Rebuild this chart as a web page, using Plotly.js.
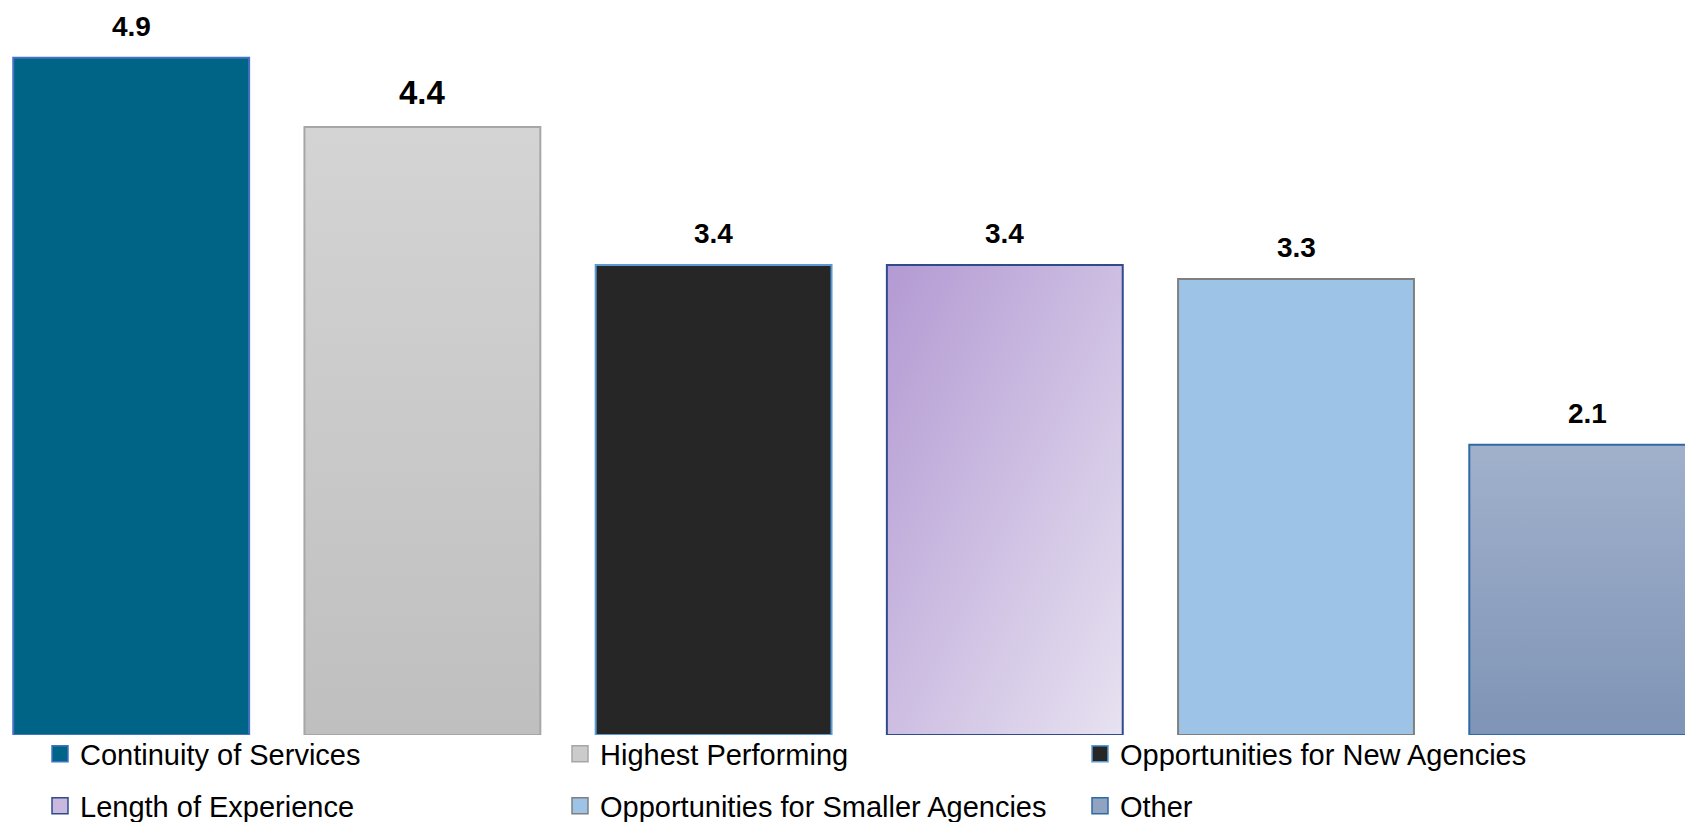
<!DOCTYPE html>
<html>
<head>
<meta charset="utf-8">
<script src="https://cdn.plot.ly/plotly-3.0.1.min.js"></script>
<style>
  html, body { margin: 0; padding: 0; background: #ffffff; }
  #chart { width: 1685px; height: 822px; }
</style>
</head>
<body>
<div id="chart"></div>
<script>
// ---- data ----
const categories = [
  "Continuity of Services",
  "Highest Performing",
  "Opportunities for New Agencies",
  "Length of Experience",
  "Opportunities for Smaller Agencies",
  "Other"
];
const values = [4.9, 4.4, 3.4, 3.4, 3.3, 2.1];

// ---- styles ----
const fillColors   = ["#006486", null, "#262626", null, "#9dc3e6", null];
const gradients    = [null,
  {x2: 0, y2: 1, from: "#d4d4d4", to: "#bfbfbf"},
  null,
  {x2: 1, y2: 1, from: "#b39ad3", to: "#e7e2f1"},
  null,
  {x2: 0, y2: 1, from: "#a1b1cc", to: "#7f94b6"}];
const swatchColors = ["#006486", "#cbcbcb", "#262626", "#c9b9df", "#9dc3e6", "#90a3c1"];
const lineColors   = ["#4472c4", "#a6a6a6", "#5b9bd5", "#2f4b8c", "#7f7f7f", "#2e6aa6"];
const labelSizes   = [28, 33, 28, 28, 28, 28];
const FONT = "Liberation Sans, Arial, sans-serif";
const BAR_W = 0.81;

function gradientURI(g) {
  const svg = "<svg xmlns='http://www.w3.org/2000/svg' width='100' height='100' viewBox='0 0 100 100' preserveAspectRatio='none'>" +
    "<defs><linearGradient id='g' x1='0' y1='0' x2='" + g.x2 + "' y2='" + g.y2 + "'>" +
    "<stop offset='0' stop-color='" + g.from + "'/><stop offset='1' stop-color='" + g.to + "'/></linearGradient></defs>" +
    "<rect x='0' y='0' width='100' height='100' fill='url(#g)'/></svg>";
  return "data:image/svg+xml;charset=utf-8," + encodeURIComponent(svg);
}

const traces = [];
const images = [];
const annotations = [];

categories.forEach((name, i) => {
  traces.push({
    type: "bar",
    x: [i],
    y: [values[i]],
    width: BAR_W,
    name: name,
    showlegend: false,
    hoverinfo: "skip",
    marker: {
      color: gradients[i] ? "rgba(0,0,0,0)" : fillColors[i],
      line: { color: lineColors[i], width: 2 }
    }
  });
  if (gradients[i]) {
    images.push({
      source: gradientURI(gradients[i]),
      xref: "x", yref: "y",
      x: i - BAR_W / 2, y: values[i],
      sizex: BAR_W, sizey: values[i],
      xanchor: "left", yanchor: "top",
      sizing: "stretch",
      layer: "below"
    });
  }
  annotations.push({
    x: i, y: values[i],
    xref: "x", yref: "y",
    text: "<b>" + values[i].toFixed(1) + "</b>",
    showarrow: false,
    yanchor: "bottom",
    yshift: 14,
    font: { family: FONT, size: labelSizes[i], color: "#000000" }
  });
});

// legend entries (two rows of three)
categories.forEach((name, i) => {
  traces.push({
    type: "scatter",
    mode: "markers",
    x: [null], y: [null],
    name: name,
    legend: i < 3 ? "legend" : "legend2",
    hoverinfo: "skip",
    marker: {
      symbol: "square",
      size: 16,
      color: swatchColors[i],
      line: { color: lineColors[i], width: 1.5 }
    }
  });
});

const W = 1685, H = 822;
const legendBase = {
  orientation: "h",
  xref: "container", yref: "container",
  x: 40 / W, xanchor: "left",
  yanchor: "middle",
  entrywidth: 475,
  bgcolor: "rgba(0,0,0,0)",
  borderwidth: 0,
  font: { family: FONT, size: 29, color: "#000000" }
};

const layout = {
  width: W, height: H,
  margin: { l: 0, r: 0, t: 0, b: 87, pad: 0, autoexpand: false },
  paper_bgcolor: "#ffffff",
  plot_bgcolor: "rgba(0,0,0,0)",
  barmode: "overlay",
  showlegend: true,
  xaxis: {
    type: "linear",
    range: [-0.4505, 5.3358],
    showgrid: false, zeroline: false, showline: false,
    showticklabels: false, ticks: "", fixedrange: true, automargin: false
  },
  yaxis: {
    range: [0, 5.318],
    showgrid: false, zeroline: false, showline: false,
    showticklabels: false, ticks: "", fixedrange: true, automargin: false
  },
  legend: Object.assign({}, legendBase, { y: 1 - 754 / H }),
  legend2: Object.assign({}, legendBase, { y: 1 - 806 / H }),
  images: images,
  annotations: annotations,
  font: { family: FONT, color: "#000000" }
};

Plotly.newPlot("chart", traces, layout, { displayModeBar: false, staticPlot: true });
</script>
</body>
</html>
